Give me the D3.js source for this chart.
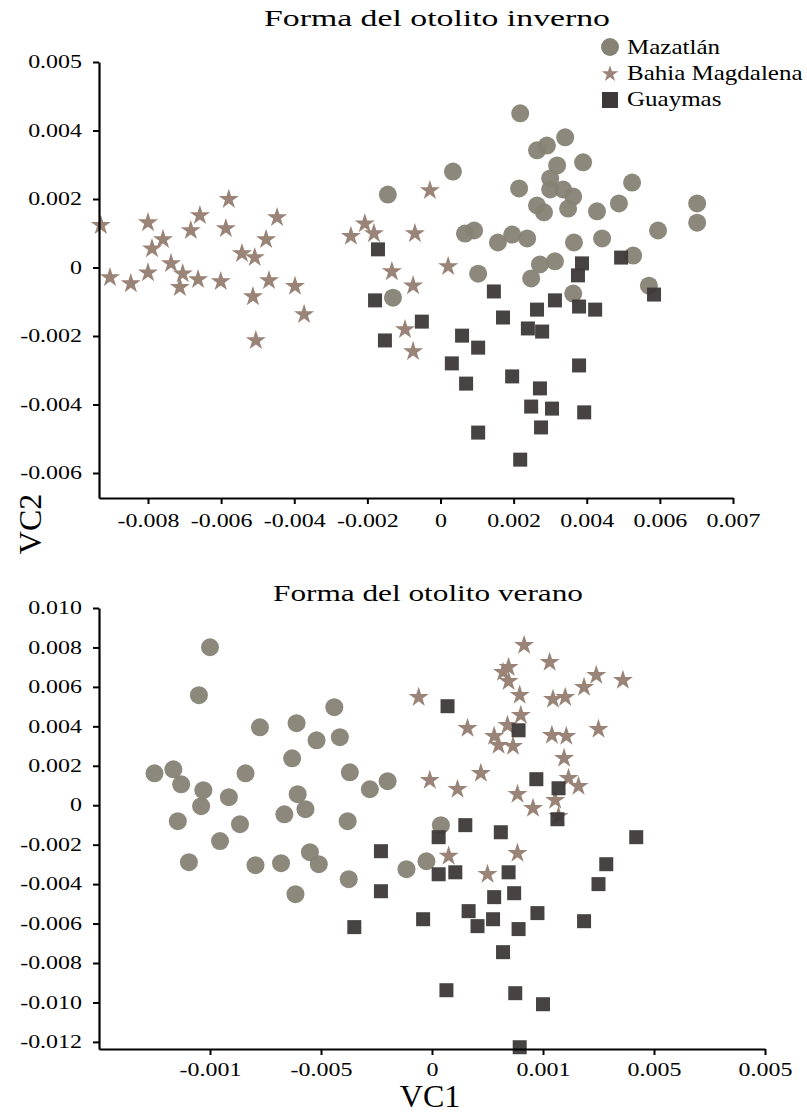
<!DOCTYPE html>
<html>
<head>
<meta charset="utf-8">
<script src="https://cdn.jsdelivr.net/npm/d3@7"></script>
<style>
  body { margin: 0; background: #fff; }
  svg { display: block; }
  svg text { font-family: "Liberation Serif", "DejaVu Serif", serif; }
</style>
</head>
<body>
<div id="chart"></div>
<script>
// ---- data: [VC1, VC2] ----

// winter panel
const winterMazatlan = [
  [-0.00144, 0.00213], [-0.00130, -0.00088], [0.00034, 0.00280], [0.00067, 0.00099],
  [0.00092, 0.00108], [0.00103, -0.00018], [0.00157, 0.00073], [0.00196, 0.00096],
  [0.00237, 0.00085], [0.00215, 0.00231], [0.00218, 0.00450], [0.00264, 0.00342],
  [0.00291, 0.00356], [0.00341, 0.00380], [0.00390, 0.00307], [0.00319, 0.00298],
  [0.00300, 0.00260], [0.00300, 0.00228], [0.00335, 0.00228], [0.00363, 0.00207],
  [0.00264, 0.00181], [0.00283, 0.00161], [0.00349, 0.00172], [0.00428, 0.00164],
  [0.00488, 0.00187], [0.00524, 0.00248], [0.00702, 0.00187], [0.00702, 0.00131],
  [0.00595, 0.00108], [0.00365, 0.00073], [0.00442, 0.00085], [0.00527, 0.00035],
  [0.00313, 0.00018], [0.00272, 0.00009], [0.00248, -0.00032], [0.00363, -0.00076],
  [0.00570, -0.00053]
];
const winterMagdalena = [
  [-0.00929, 0.00123], [-0.00904, -0.00029], [-0.00847, -0.00047], [-0.00800, 0.00131],
  [-0.00800, -0.00015], [-0.00789, 0.00055], [-0.00759, 0.00082], [-0.00737, 0.00012],
  [-0.00713, -0.00058], [-0.00705, -0.00018], [-0.00683, 0.00108], [-0.00663, -0.00035],
  [-0.00658, 0.00152], [-0.00601, -0.00041], [-0.00587, 0.00114], [-0.00579, 0.00199],
  [-0.00543, 0.00041], [-0.00513, -0.00085], [-0.00508, 0.00029], [-0.00505, -0.00213],
  [-0.00477, 0.00082], [-0.00469, -0.00038], [-0.00447, 0.00146], [-0.00398, -0.00055],
  [-0.00373, -0.00137], [-0.00245, 0.00091], [-0.00207, 0.00128], [-0.00182, 0.00099],
  [-0.00133, -0.00012], [-0.00097, -0.00181], [-0.00075, -0.00053], [-0.00075, -0.00245],
  [-0.00070, 0.00099], [-0.00029, 0.00225], [0.00021, 0.00003]
];
const winterGuaymas = [
  [-0.00171, 0.00053], [-0.00179, -0.00096], [-0.00152, -0.00213], [-0.00051, -0.00158],
  [0.00059, -0.00199], [0.00031, -0.00280], [0.00103, -0.00234], [0.00070, -0.00339],
  [0.00146, -0.00070], [0.00171, -0.00146], [0.00264, -0.00123], [0.00239, -0.00178],
  [0.00278, -0.00187], [0.00313, -0.00096], [0.00379, -0.00114], [0.00423, -0.00123],
  [0.00376, -0.00023], [0.00387, 0.00012], [0.00494, 0.00029], [0.00584, -0.00079],
  [0.00196, -0.00318], [0.00272, -0.00353], [0.00248, -0.00406], [0.00305, -0.00412],
  [0.00275, -0.00467], [0.00379, -0.00286], [0.00393, -0.00423], [0.00103, -0.00482],
  [0.00218, -0.00561]
];

// summer panel
const summerMazatlan = [
  [-0.00250, 0.00162], [-0.00233, 0.00182], [-0.00226, 0.00106], [-0.00200, 0.00801],
  [-0.00210, 0.00558], [-0.00206, 0.00076], [-0.00208, -0.00005], [-0.00229, -0.00081],
  [-0.00183, 0.00041], [-0.00168, 0.00162], [-0.00173, -0.00096], [-0.00191, -0.00182],
  [-0.00219, -0.00289], [-0.00155, 0.00395], [-0.00159, -0.00304], [-0.00136, -0.00294],
  [-0.00122, 0.00416], [-0.00126, 0.00238], [-0.00104, 0.00329], [-0.00088, 0.00497],
  [-0.00083, 0.00345], [-0.00121, 0.00056], [-0.00114, -0.00020], [-0.00133, -0.00046],
  [-0.00074, 0.00167], [-0.00056, 0.00081], [-0.00040, 0.00122], [-0.00076, -0.00081],
  [-0.00110, -0.00238], [-0.00102, -0.00299], [-0.00123, -0.00451], [-0.00075, -0.00375],
  [-0.00005, -0.00284], [-0.00023, -0.00324], [0.00008, -0.00101]
];
const summerMagdalena = [
  [0.00083, 0.00811], [0.00106, 0.00725], [0.00064, 0.00674], [0.00069, 0.00699],
  [0.00069, 0.00628], [0.00148, 0.00659], [0.00172, 0.00634], [0.00137, 0.00598],
  [-0.00012, 0.00547], [0.00079, 0.00558], [0.00109, 0.00537], [0.00120, 0.00547],
  [0.00080, 0.00456], [0.00032, 0.00390], [0.00068, 0.00405], [0.00056, 0.00350],
  [0.00060, 0.00304], [0.00073, 0.00299], [0.00108, 0.00355], [0.00121, 0.00350],
  [0.00150, 0.00385], [0.00119, 0.00238], [0.00044, 0.00162], [-0.00002, 0.00127],
  [0.00023, 0.00081], [0.00123, 0.00137], [0.00132, 0.00096], [0.00077, 0.00056],
  [0.00111, 0.00025], [0.00091, -0.00015], [0.00114, -0.00056], [0.00015, -0.00258],
  [0.00077, -0.00243], [0.00050, -0.00350]
];
const summerGuaymas = [
  [0.00014, 0.00502], [0.00078, 0.00380], [0.00094, 0.00132], [0.00114, 0.00086],
  [0.00113, -0.00071], [0.00030, -0.00101], [0.00062, -0.00137], [0.00006, -0.00162],
  [0.00184, -0.00162], [-0.00046, -0.00233], [-0.00046, -0.00436], [-0.00070, -0.00618],
  [0.00157, -0.00299], [0.00150, -0.00400], [0.00006, -0.00350], [0.00021, -0.00340],
  [0.00069, -0.00340], [0.00074, -0.00446], [0.00056, -0.00466], [0.00033, -0.00537],
  [-0.00008, -0.00578], [0.00055, -0.00578], [0.00041, -0.00613], [0.00078, -0.00628],
  [0.00095, -0.00547], [0.00137, -0.00588], [0.00064, -0.00745], [0.00013, -0.00938],
  [0.00075, -0.00953], [0.00100, -0.01009], [0.00079, -0.01227]
];

// tick values and the labels printed on the original (which don't always match)
const winterXTicks = [-0.008, -0.006, -0.004, -0.002, 0, 0.002, 0.004, 0.006, 0.008];
const winterXLabels = ["-0.008", "-0.006", "-0.004", "-0.002", "0", "0.002", "0.004", "0.006", "0.007"];
const winterYTicks = [0.006, 0.004, 0.002, 0, -0.002, -0.004, -0.006];
const winterYLabels = ["0.005", "0.004", "0.002", "0", "-0.002", "-0.004", "-0.006"];

const summerXTicks = [-0.002, -0.001, 0, 0.001, 0.002, 0.003];
const summerXLabels = ["-0.001", "-0.005", "0", "0.001", "0.005", "0.005"];
const summerYTicks = [0.010, 0.008, 0.006, 0.004, 0.002, 0, -0.002, -0.004, -0.006, -0.008, -0.010, -0.012];
const summerYLabels = ["0.010", "0.008", "0.006", "0.004", "0.002", "0", "-0.002", "-0.004", "-0.006", "-0.008", "-0.010", "-0.012"];

const groups = ["Mazatlán", "Bahia Magdalena", "Guaymas"];

const width = 807;
const height = 1116;
const serif = '"Liberation Serif", "DejaVu Serif", serif';

const colors = {
  "Mazatlán": "#868274",
  "Bahia Magdalena": "#9a8377",
  "Guaymas": "#3d3939"
};

const svg = d3.select("#chart")
  .append("svg")
  .attr("width", width)
  .attr("height", height);

// the original's lettering is stretched sideways, widen the glyphs a bit
const widen = (sel, k) => sel.each(function () {
  const w = this.getComputedTextLength();
  d3.select(this)
    .attr("textLength", w * k)
    .attr("lengthAdjust", "spacingAndGlyphs");
});

const star = d3.symbol(d3.symbolStar).size(125);

const drawPanel = (cfg) => {
  const xScale = d3.scaleLinear()
    .domain(cfg.xDomain)
    .range([cfg.left, cfg.right]);
  const yScale = d3.scaleLinear()
    .domain(cfg.yDomain)
    .range([cfg.bottom, cfg.top]);

  const g = svg.append("g");

  // markers: circles first, then stars, squares on top
  g.selectAll(".circ")
    .data(cfg.mazatlan)
    .join("circle")
      .attr("cx", d => xScale(d[0]))
      .attr("cy", d => yScale(d[1]))
      .attr("r", 9)
      .attr("fill", colors["Mazatlán"])
      .attr("fill-opacity", 0.95);

  g.selectAll(".star")
    .data(cfg.magdalena)
    .join("path")
      .attr("d", star)
      .attr("transform", d => `translate(${xScale(d[0])},${yScale(d[1])})`)
      .attr("fill", colors["Bahia Magdalena"]);

  g.selectAll(".sq")
    .data(cfg.guaymas)
    .join("rect")
      .attr("x", d => xScale(d[0]) - 7)
      .attr("y", d => yScale(d[1]) - 7)
      .attr("width", 14)
      .attr("height", 14)
      .attr("fill", colors["Guaymas"])
      .attr("fill-opacity", 0.95);

  // axes
  const xAxis = d3.axisBottom(xScale)
    .tickValues(cfg.xTicks)
    .tickFormat((d, i) => cfg.xLabels[i])
    .tickSizeInner(6)
    .tickSizeOuter(0)
    .tickPadding(cfg.xPad);

  const yAxis = d3.axisLeft(yScale)
    .tickValues(cfg.yTicks)
    .tickFormat((d, i) => cfg.yLabels[i])
    .tickSizeInner(6)
    .tickSizeOuter(0)
    .tickPadding(11);

  const gx = g.append("g")
    .attr("transform", `translate(0,${cfg.bottom})`)
    .call(xAxis);
  const gy = g.append("g")
    .attr("transform", `translate(${cfg.left},0)`)
    .call(yAxis);

  [gx, gy].forEach(a => {
    a.attr("font-family", null).attr("font-size", null);
    a.select(".domain").attr("stroke", "#000").attr("stroke-width", 2.2);
    a.selectAll(".tick line").attr("stroke", "#000").attr("stroke-width", 2);
    a.selectAll(".tick text")
      .attr("fill", "#000")
      .style("font-family", serif)
      .style("font-size", "18px")
      .call(widen, 1.33);
  });

  // title
  svg.append("text")
    .attr("x", cfg.titleX)
    .attr("y", cfg.titleY)
    .attr("text-anchor", "middle")
    .style("font-family", serif)
    .style("font-size", "24px")
    .attr("fill", "#000")
    .text(cfg.title)
    .attr("textLength", cfg.titleW)
    .attr("lengthAdjust", "spacingAndGlyphs");
};

drawPanel({
  title: "Forma del otolito inverno",
  titleX: 437, titleY: 26, titleW: 346,
  left: 99, right: 733, top: 62, bottom: 498,
  xDomain: [-0.00934, 0.008],
  yDomain: [-0.00673, 0.006],
  xTicks: winterXTicks, xLabels: winterXLabels,
  yTicks: winterYTicks, yLabels: winterYLabels,
  xPad: 10,
  mazatlan: winterMazatlan, magdalena: winterMagdalena, guaymas: winterGuaymas
});

drawPanel({
  title: "Forma del otolito verano",
  titleX: 428, titleY: 601, titleW: 310,
  left: 99, right: 765, top: 608, bottom: 1049,
  xDomain: [-0.003, 0.003],
  yDomain: [-0.01236, 0.010],
  xTicks: summerXTicks, xLabels: summerXLabels,
  yTicks: summerYTicks, yLabels: summerYLabels,
  xPad: 8,
  mazatlan: summerMazatlan, magdalena: summerMagdalena, guaymas: summerGuaymas
});

// legend
const legend = svg.append("g").attr("transform", "translate(610,47)");
const rowGap = 26;

legend.append("circle")
  .attr("cx", 0).attr("cy", 0).attr("r", 9)
  .attr("fill", colors["Mazatlán"]);
legend.append("path")
  .attr("d", d3.symbol(d3.symbolStar).size(85))
  .attr("transform", `translate(0,${rowGap + 1})`)
  .attr("fill", colors["Bahia Magdalena"]);
legend.append("rect")
  .attr("x", -8).attr("y", rowGap * 2 - 7)
  .attr("width", 16).attr("height", 16)
  .attr("fill", colors["Guaymas"]);

legend.selectAll(".lbl")
  .data(groups)
  .join("text")
    .attr("x", 17)
    .attr("y", (d, i) => i * rowGap + 7)
    .style("font-family", serif)
    .style("font-size", "21px")
    .attr("fill", "#000")
    .text(d => d)
    .call(widen, 1.19);

// axis titles
svg.append("text")
  .attr("transform", "translate(41,524) rotate(-90)")
  .attr("text-anchor", "middle")
  .style("font-family", serif)
  .style("font-size", "32px")
  .attr("fill", "#000")
  .text("VC2");

svg.append("text")
  .attr("x", 430)
  .attr("y", 1107)
  .attr("text-anchor", "middle")
  .style("font-family", serif)
  .style("font-size", "32px")
  .attr("fill", "#000")
  .text("VC1");
</script>
</body>
</html>
